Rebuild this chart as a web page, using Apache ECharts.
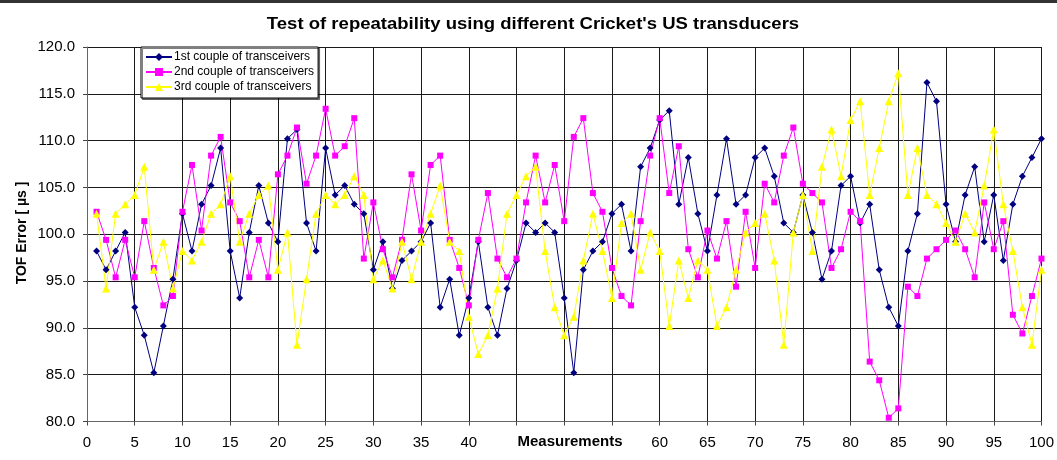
<!DOCTYPE html>
<html>
<head>
<meta charset="utf-8">
<script src="https://cdn.jsdelivr.net/npm/echarts@6/dist/echarts.min.js"></script>
<style>
  html, body { margin: 0; padding: 0; background: #fff; }
  #chart { width: 1057px; height: 460px; }
</style>
</head>
<body>
<div id="chart"></div>
<script>
// Measurement index 1..100
const measurements = Array.from({ length: 100 }, (_, i) => i + 1);

// TOF error [µs] for each pair of transceivers
const couple1 = [
  98.2, 96.2, 98.2, 100.2, 92.2, 89.2, 85.2, 90.2, 95.2, 102.2,
  98.2, 103.2, 105.2, 109.2, 98.2, 93.2, 100.2, 105.2, 101.2, 99.2,
  110.2, 111.2, 101.2, 98.2, 109.2, 104.2, 105.2, 103.2, 102.2, 96.2,
  99.2, 94.2, 97.2, 98.2, 99.2, 101.2, 92.2, 95.2, 89.2, 93.2,
  99.2, 92.2, 89.2, 94.2, 97.2, 101.2, 100.2, 101.2, 100.2, 93.2,
  85.2, 96.2, 98.2, 99.2, 102.2, 103.2, 98.2, 107.2, 109.2, 112.2,
  113.2, 103.2, 108.2, 102.2, 98.2, 104.2, 110.2, 103.2, 104.2, 108.2,
  109.2, 106.2, 101.2, 100.2, 104.2, 100.2, 95.2, 98.2, 105.2, 106.2,
  101.2, 103.2, 96.2, 92.2, 90.2, 98.2, 102.2, 116.2, 114.2, 103.2,
  99.2, 104.2, 107.2, 99.2, 104.2, 97.2, 103.2, 106.2, 108.2, 110.2
];
const couple2 = [
  102.4, 99.4, 95.4, 99.4, 95.4, 101.4, 96.4, 92.4, 93.4, 102.4,
  107.4, 100.4, 108.4, 110.4, 103.4, 101.4, 95.4, 99.4, 95.4, 106.4,
  108.4, 111.4, 105.4, 108.4, 113.4, 108.4, 109.4, 112.4, 97.4, 103.4,
  98.4, 95.4, 99.4, 106.4, 100.4, 107.4, 108.4, 99.4, 96.4, 92.4,
  99.4, 104.4, 97.4, 95.4, 97.4, 103.4, 108.4, 103.4, 107.4, 101.4,
  110.4, 112.4, 104.4, 102.4, 96.4, 93.4, 92.4, 101.4, 108.4, 112.4,
  104.4, 109.4, 98.4, 95.4, 100.4, 97.4, 101.4, 94.4, 102.4, 96.4,
  105.4, 103.4, 108.4, 111.4, 105.4, 104.4, 103.4, 96.4, 98.4, 102.4,
  101.4, 86.4, 84.4, 80.4, 81.4, 94.4, 93.4, 97.4, 98.4, 99.4,
  100.4, 98.4, 95.4, 103.4, 98.4, 101.4, 91.4, 89.4, 93.4, 97.4
];
const couple3 = [
  102.2, 94.2, 102.2, 103.2, 104.2, 107.2, 96.2, 99.2, 94.2, 98.2,
  97.2, 99.2, 102.2, 103.2, 106.2, 99.2, 102.2, 104.2, 105.2, 96.2,
  100.2, 88.2, 95.2, 102.2, 104.2, 103.2, 104.2, 106.2, 104.2, 95.2,
  97.2, 94.2, 99.2, 95.2, 99.2, 102.2, 105.2, 99.2, 98.2, 91.2,
  87.2, 89.2, 94.2, 102.2, 104.2, 106.2, 107.2, 98.2, 92.2, 89.2,
  91.2, 97.2, 102.2, 98.2, 93.2, 101.2, 102.2, 96.2, 100.2, 98.2,
  90.2, 97.2, 93.2, 97.2, 96.2, 90.2, 92.2, 96.2, 100.2, 101.2,
  102.2, 97.2, 88.2, 100.2, 104.2, 98.2, 107.2, 111.2, 106.2, 112.2,
  114.2, 104.2, 109.2, 114.2, 117.2, 104.2, 109.2, 104.2, 103.2, 101.2,
  99.2, 102.2, 100.2, 105.2, 111.2, 103.2, 98.2, 92.2, 88.2, 96.2
];

const seriesNames = [
  '1st couple of transceivers',
  '2nd couple of transceivers',
  '3rd couple of transceivers'
];

// x tick values whose labels sit under the axis title and are left blank
const hiddenXTicks = [45, 50, 55];

const FONT = '"Liberation Sans", Arial, sans-serif';

function pairs(values) {
  return measurements.map((m, i) => [m, values[i]]);
}

function lineSeries(name, values, color, symbol, size) {
  return {
    name: name,
    type: 'line',
    data: pairs(values),
    symbol: symbol,
    symbolSize: size,
    showAllSymbol: true,
    lineStyle: { color: color, width: 1 },
    itemStyle: { color: color, borderWidth: 0 },
    emphasis: { disabled: true },
    animation: false
  };
}

const chart = echarts.init(document.getElementById('chart'), null, { renderer: 'canvas' });

chart.setOption({
  backgroundColor: '#ffffff',
  animation: false,
  grid: { left: 87, right: 15, top: 47, bottom: 38.5 },
  legend: {
    left: 141,
    top: 47,
    orient: 'vertical',
    padding: [4, 4, 5, 4],
    itemGap: 3,
    itemWidth: 26,
    itemHeight: 10,
    backgroundColor: '#ffffff',
    borderColor: '#000000',
    borderWidth: 1,
    borderRadius: 0,
    shadowColor: 'rgba(0,0,0,0.5)',
    shadowOffsetX: 1.5,
    shadowOffsetY: 1.5,
    shadowBlur: 0,
    textStyle: {
      fontFamily: FONT, fontSize: 12, lineHeight: 12, color: '#000',
      padding: [0, 0, 0, -3]
    },
    data: seriesNames
  },
  xAxis: {
    type: 'value',
    min: 0,
    max: 100,
    interval: 5,
    axisLine: { show: true, onZero: false, lineStyle: { color: '#666', width: 1 } },
    axisTick: { show: true, inside: false, length: 4, lineStyle: { color: '#444' } },
    axisLabel: {
      fontFamily: FONT, fontSize: 15, color: '#000', margin: 14,
      formatter: v => (hiddenXTicks.indexOf(v) >= 0 ? '' : String(v))
    },
    splitLine: { show: true, lineStyle: { color: '#1a1a1a', width: 1 } }
  },
  yAxis: {
    type: 'value',
    min: 80,
    max: 120,
    interval: 5,
    axisLine: { show: true, lineStyle: { color: '#666', width: 1 } },
    axisTick: { show: true, inside: false, length: 4, lineStyle: { color: '#444' } },
    axisLabel: {
      fontFamily: FONT, fontSize: 15, color: '#000', margin: 12,
      formatter: v => v.toFixed(1)
    },
    splitLine: { show: true, lineStyle: { color: '#1a1a1a', width: 1 } }
  },
  graphic: [
    {
      type: 'rect',
      shape: { x: 0, y: 0, width: 1057, height: 3 },
      style: { fill: '#333333' },
      silent: true
    },
    {
      type: 'text',
      x: 533,
      y: 24,
      scaleX: 1.09,
      style: {
        text: "Test of repeatability using different Cricket's US transducers",
        font: 'bold 17px ' + FONT,
        fill: '#000',
        align: 'center',
        verticalAlign: 'middle'
      },
      silent: true
    },
    {
      type: 'text',
      x: 570,
      y: 442,
      style: {
        text: 'Measurements',
        font: 'bold 15px ' + FONT,
        fill: '#000',
        align: 'center',
        verticalAlign: 'middle'
      },
      silent: true
    },
    {
      type: 'text',
      x: 22,
      y: 233,
      rotation: Math.PI / 2,
      style: {
        text: 'TOF Error [ µs ]',
        font: 'bold 14px ' + FONT,
        fill: '#000',
        align: 'center',
        verticalAlign: 'middle'
      },
      silent: true
    }
  ],
  series: [
    lineSeries(seriesNames[0], couple1, '#000080', 'diamond', 7),
    lineSeries(seriesNames[1], couple2, '#FF00FF', 'rect', 6),
    lineSeries(seriesNames[2], couple3, '#FFFF00', 'triangle', 8)
  ]
});
</script>
</body>
</html>
